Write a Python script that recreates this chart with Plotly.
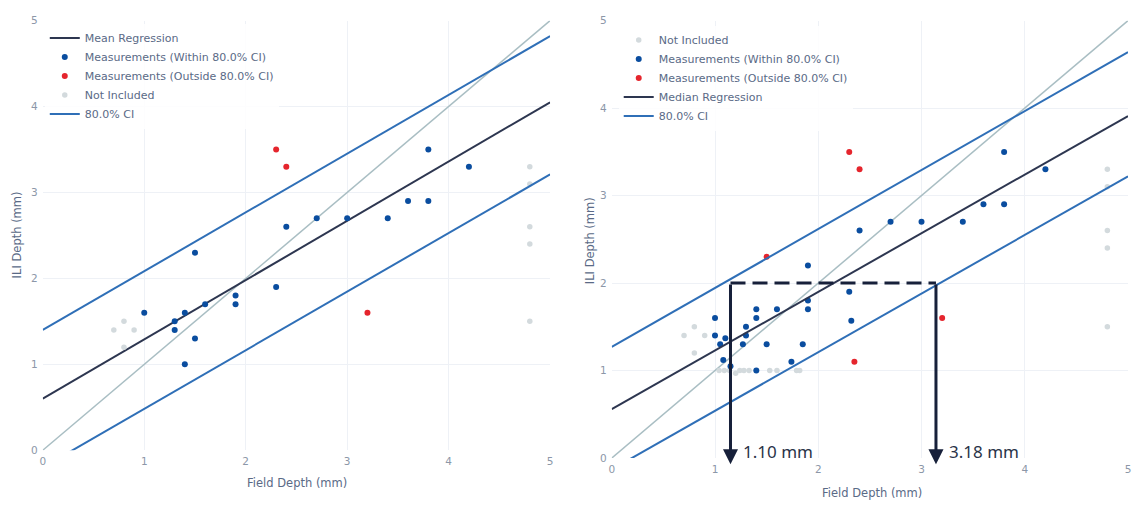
import plotly.graph_objects as go

# ---------------- data ----------------
# Left panel (mean regression)
L_in_x = [1.0, 1.3, 1.3, 1.4, 1.5, 1.5, 1.4, 1.6, 1.9, 1.9, 2.3, 2.4, 2.7, 3.0, 3.4, 3.6, 3.8, 3.8, 4.2]
L_in_y = [1.6, 1.5, 1.4, 1.6, 2.3, 1.3, 1.0, 1.7, 1.8, 1.7, 1.9, 2.6, 2.7, 2.7, 2.7, 2.9, 2.9, 3.5, 3.3]
L_out_x = [2.3, 2.4, 3.2]
L_out_y = [3.5, 3.3, 1.6]
L_ni_x = [0.7, 0.8, 0.9, 0.8, 4.8, 4.8, 4.8, 4.8, 4.8]
L_ni_y = [1.4, 1.5, 1.4, 1.2, 3.3, 3.1, 2.6, 2.4, 1.5]
L_line_x = [0, 5]
L_mean_y = [0.6, 4.05]
L_upper_y = [1.4, 4.82]
L_lower_y = [-0.2, 3.21]

# Right panel (median regression)
R_in_x = [1.0, 1.0, 1.05, 1.1, 1.08, 1.15, 1.27, 1.3, 1.3, 1.4, 1.4, 1.4, 1.5, 1.6, 1.74, 1.85,
          1.9, 1.9, 1.9, 2.3, 2.32, 2.4, 2.7, 3.0, 3.4, 3.6, 3.8, 3.8, 4.2]
R_in_y = [1.6, 1.4, 1.3, 1.37, 1.12, 1.05, 1.3, 1.5, 1.4, 1.7, 1.6, 1.0, 1.3, 1.7, 1.1, 1.3,
          2.2, 1.8, 1.7, 1.9, 1.57, 2.6, 2.7, 2.7, 2.7, 2.9, 2.9, 3.5, 3.3]
R_out_x = [1.5, 2.3, 2.4, 3.2, 2.35]
R_out_y = [2.3, 3.5, 3.3, 1.6, 1.1]
R_ni_x = [0.7, 0.8, 0.9, 0.8, 1.04, 1.09, 1.14, 1.2, 1.24, 1.28, 1.33, 1.53, 1.6, 1.79, 1.82,
          4.8, 4.8, 4.8, 4.8, 4.8]
R_ni_y = [1.4, 1.5, 1.4, 1.2, 1.0, 1.0, 1.0, 0.97, 1.0, 1.0, 1.0, 1.0, 1.0, 1.0, 1.0,
          3.3, 3.1, 2.6, 2.4, 1.5]
R_line_x = [0, 5]
R_median_y = [0.56, 3.91]
R_upper_y = [1.27, 4.64]
R_lower_y = [-0.13, 3.22]

identity = [0, 5]

# CI read-off construction (right panel)
cross_y = 2.0
cross_x = [1.15, 3.14]
cross_labels = ["1.10 mm", "3.18 mm"]
arrow_tip_y = -0.07
label_y = 0.08

# ---------------- styles ----------------
BLUE_PT = "#0a4d9f"
RED_PT = "#e5252d"
GRAY_PT = "#d3dadd"
REG = "#2d3650"
CI = "#2f6fb7"
IDENT = "#a9bec3"
NAVY = "#17203a"
TXT = "#5a6a86"
TICK = "#8c97a8"
GRID = "#eef1f6"
FONT = "DejaVu Sans"

fig = go.Figure()


def add_panel(xa, ya, leg, reg_name, line_x, reg_y, up_y, lo_y, inx, iny, outx, outy, nix, niy, order):
    traces = {}
    traces["ident"] = go.Scatter(x=identity, y=identity, mode="lines", line=dict(color=IDENT, width=1.5),
                                 showlegend=False, hoverinfo="skip", xaxis=xa, yaxis=ya)
    traces["reg"] = go.Scatter(x=line_x, y=reg_y, mode="lines", name=reg_name, line=dict(color=REG, width=2),
                               xaxis=xa, yaxis=ya, legend=leg)
    traces["in"] = go.Scatter(x=inx, y=iny, mode="markers", name="Measurements (Within 80.0% CI)",
                              marker=dict(color=BLUE_PT, size=6), xaxis=xa, yaxis=ya, legend=leg)
    traces["out"] = go.Scatter(x=outx, y=outy, mode="markers", name="Measurements (Outside 80.0% CI)",
                               marker=dict(color=RED_PT, size=6), xaxis=xa, yaxis=ya, legend=leg)
    traces["ni"] = go.Scatter(x=nix, y=niy, mode="markers", name="Not Included",
                              marker=dict(color=GRAY_PT, size=5.5), xaxis=xa, yaxis=ya, legend=leg)
    traces["ci"] = go.Scatter(x=line_x, y=up_y, mode="lines", name="80.0% CI", line=dict(color=CI, width=2),
                              xaxis=xa, yaxis=ya, legend=leg, legendgroup="ci" + leg)
    traces["ci2"] = go.Scatter(x=line_x, y=lo_y, mode="lines", name="80.0% CI", line=dict(color=CI, width=2),
                               xaxis=xa, yaxis=ya, legend=leg, legendgroup="ci" + leg, showlegend=False)
    fig.add_trace(traces["ident"])
    for k in order:
        fig.add_trace(traces[k])
    fig.add_trace(traces["ci2"])


add_panel("x", "y", "legend", "Mean Regression", L_line_x, L_mean_y, L_upper_y, L_lower_y,
          L_in_x, L_in_y, L_out_x, L_out_y, L_ni_x, L_ni_y, ["reg", "in", "out", "ni", "ci"])
add_panel("x2", "y2", "legend2", "Median Regression", R_line_x, R_median_y, R_upper_y, R_lower_y,
          R_in_x, R_in_y, R_out_x, R_out_y, R_ni_x, R_ni_y, ["ni", "in", "out", "reg", "ci"])

# dashed horizontal read-off line
fig.add_trace(go.Scatter(x=cross_x, y=[cross_y, cross_y], mode="lines",
                         line=dict(color=NAVY, width=3, dash="15px,7px"),
                         showlegend=False, hoverinfo="skip", xaxis="x2", yaxis="y2"))

W, H = 1133, 508
annotations = []
for cx, lab in zip(cross_x, cross_labels):
    annotations.append(dict(x=cx, y=arrow_tip_y, ax=cx, ay=cross_y, xref="x2", yref="y2",
                            axref="x2", ayref="y2", showarrow=True, arrowhead=2, arrowsize=1,
                            arrowwidth=3, arrowcolor=NAVY, text=""))
    annotations.append(dict(x=cx, y=label_y, xref="x2", yref="y2", showarrow=False, text=lab,
                            xanchor="left", yanchor="middle", xshift=11,
                            font=dict(family="Noto Sans", size=17, color="#2a3348")))

# axis titles
annotations += [
    dict(x=296 / W, y=1 - 489 / H, xref="paper", yref="paper", text="Field Depth (mm)", showarrow=False,
         xanchor="center", yanchor="middle", font=dict(family=FONT, size=11.5, color=TXT)),
    dict(x=874 / W, y=1 - 499 / H, xref="paper", yref="paper", text="Field Depth (mm)", showarrow=False,
         xanchor="center", yanchor="middle", font=dict(family=FONT, size=11.5, color=TXT)),
    dict(x=15 / W, y=1 - 234 / H, xref="paper", yref="paper", text="ILI Depth (mm)", showarrow=False,
         xanchor="center", yanchor="middle", textangle=-90, font=dict(family=FONT, size=11.5, color=TXT)),
    dict(x=590 / W, y=1 - 240 / H, xref="paper", yref="paper", text="ILI Depth (mm)", showarrow=False,
         xanchor="center", yanchor="middle", textangle=-90, font=dict(family=FONT, size=11.5, color=TXT)),
]

axis_common = dict(range=[0, 5], dtick=1, showgrid=True, gridcolor=GRID, zeroline=False, showline=False,
                   tickfont=dict(family=FONT, size=10.5, color=TICK), ticks="", fixedrange=True)

fig.update_layout(
    width=W, height=H, margin=dict(l=0, r=0, t=0, b=0),
    paper_bgcolor="white", plot_bgcolor="white",
    xaxis=dict(domain=[40 / W, 550 / W], anchor="y", ticklabelstandoff=3, **axis_common),
    yaxis=dict(domain=[1 - 455 / H, 1 - 15 / H], anchor="x", ticklabelstandoff=4, **axis_common),
    xaxis2=dict(domain=[612 / W, 1131 / W], anchor="y2", ticklabelstandoff=3, **axis_common),
    yaxis2=dict(domain=[1 - 463 / H, 1 - 15 / H], anchor="x2", ticklabelstandoff=4, **axis_common),
    legend=dict(x=42 / W, y=1 - 18 / H, xanchor="left", yanchor="top", bgcolor="rgba(255,255,255,0.85)",
                font=dict(family=FONT, size=11, color=TXT), tracegroupgap=0, itemwidth=30),
    legend2=dict(x=619 / W, y=1 - 20 / H, xanchor="left", yanchor="top", bgcolor="rgba(255,255,255,0.85)",
                 font=dict(family=FONT, size=11, color=TXT), tracegroupgap=0, itemwidth=30),
    annotations=annotations,
    showlegend=True,
)

fig.write_html("out.html")
